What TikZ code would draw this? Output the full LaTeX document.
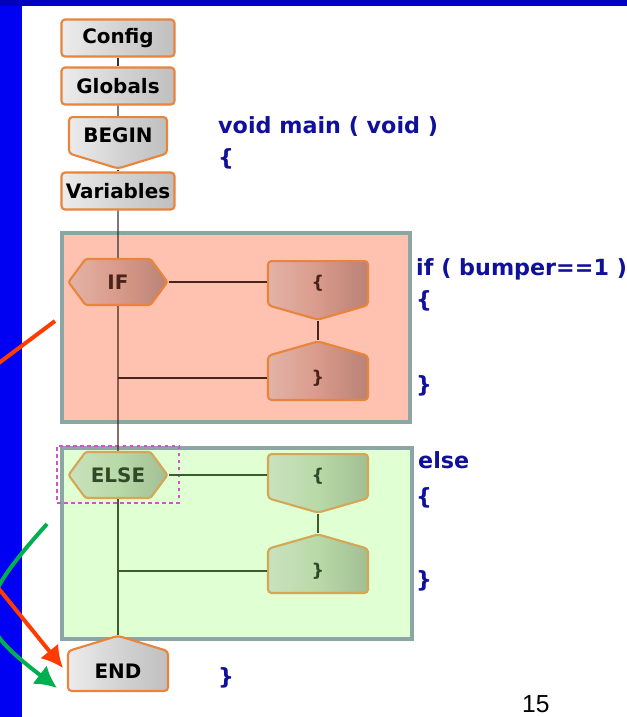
\documentclass[tikz,border=0pt]{standalone}
\usepackage{fontspec}
\newfontfamily\codefont{DejaVu Sans}
\newfontfamily\numfont{Liberation Sans}
\usetikzlibrary{shapes,arrows.meta}
\definecolor{stripblue}{HTML}{0000F2}
\definecolor{bandblue}{HTML}{0000C0}
\definecolor{codeblue}{HTML}{10109A}
\definecolor{boxorange}{HTML}{E8843C}
\definecolor{framegray}{HTML}{8CA5A5}
\definecolor{ifback}{HTML}{FFC2B0}
\definecolor{ifnode}{HTML}{D99A8A}
\definecolor{ifline}{HTML}{4A2418}
\definecolor{elseback}{HTML}{E0FFD2}
\definecolor{elsenode}{HTML}{B8D9A8}
\definecolor{elseborder}{HTML}{D4A656}
\definecolor{elseline}{HTML}{3C5C30}
\definecolor{arrowred}{HTML}{FF3C00}
\definecolor{arrowgreen}{HTML}{00B050}
\definecolor{selmagenta}{HTML}{CC55CC}

\begin{document}
\begin{tikzpicture}[x=0.03cm,y=-0.03cm]
		\tikzstyle{bloc}=[draw=boxorange,line width=1.8pt,rounded corners=3pt,inner sep=0pt,text=black,font=\codefont\bfseries\fontsize{17}{20}\selectfont,left color=gray!15,right color=gray!50,middle color=gray!34]
		\tikzstyle{boite}=[bloc,rectangle,minimum width=3.39cm,minimum height=1.11cm]
		\tikzstyle{debut}=[bloc,signal,signal to=south,signal from=nowhere,signal pointer angle=146,minimum width=2.94cm,minimum height=1.41cm]
		\tikzstyle{fin}=[bloc,signal,signal to=north,signal from=nowhere,signal pointer angle=146,minimum width=3cm,minimum height=1.41cm]
		\tikzstyle{cadre}=[draw=framegray,line width=3.2pt,rectangle]
		\tikzstyle{test}=[signal,signal to=east and west,signal pointer angle=107,minimum width=2.97cm,minimum height=1.38cm,inner sep=0pt,line width=1.8pt,rounded corners=2pt,font=\codefont\bfseries\fontsize{17}{20}\selectfont]
		\tikzstyle{ouvre}=[signal,signal to=south,signal from=nowhere,signal pointer angle=148,minimum width=3cm,minimum height=1.38cm,inner sep=0pt,line width=1.8pt,rounded corners=3pt,font=\codefont\bfseries\fontsize{15}{17}\selectfont]
		\tikzstyle{ferme}=[ouvre,signal to=north]
		\tikzstyle{sicoul}=[draw=boxorange,text=ifline,left color=ifnode!75!white,right color=ifnode!85!black,middle color=ifnode]
		\tikzstyle{sinoncoul}=[draw=elseborder,text=elseline!80!black,left color=elsenode!75!white,right color=elsenode!88!black,middle color=elsenode]
		\tikzstyle{code}=[anchor=base west,inner sep=0pt,text=codeblue,font=\codefont\bfseries\fontsize{19}{22}\selectfont]
		\tikzstyle{fil}=[line width=1.2pt,draw=black!80]
		\path[use as bounding box] (0,0) rectangle (627,717);
		\clip (0,0) rectangle (627,717);
		\fill[white] (0,0) rectangle (627,717);
		\fill[stripblue] (0,0) rectangle (22,717);
		\fill[bandblue] (0,0) rectangle (627,6);
		
		\node[cadre,fill=ifback,minimum width=10.44cm,minimum height=5.67cm] (blocsi) at (236,327.5){};
		\node[cadre,fill=elseback,minimum width=10.5cm,minimum height=5.73cm] (blocsinon) at (237,543.5){};
		\node[draw=selmagenta,dashed,line width=1.1pt,minimum width=3.66cm,minimum height=1.71cm] (sel) at (118,474.5){};
		
		\node[boite] (config) at (118,38){Config};
		\node[boite] (globals) at (118,86){Globals};
		\node[debut,anchor=north] (begin) at (118,116){BEGIN};
		\node[boite] (vars) at (118,191){Variables};
		
		\node[test,sicoul] (si) at (118,282){IF};
		\node[ouvre,sicoul,anchor=north] (siouvre) at (318,260){\{};
		\node[ferme,sicoul,anchor=south] (siferme) at (318,401){\}};
		
		\node[test,sinoncoul] (sinon) at (118,475){ELSE};
		\node[ouvre,sinoncoul,anchor=north] (sinonouvre) at (318,453){\{};
		\node[ferme,sinoncoul,anchor=south] (sinonferme) at (318,594){\}};
		
		\node[fin,anchor=south] (end) at (118,692){END};
		
		\node[code] (tmain) at (218,133){void main ( void )};
		\node[code] (tacc1) at (218,165){\{};
		\node[code] (tsi) at (416,275){if ( bumper==1 )};
		\node[code] (tacc2) at (416,307){\{};
		\node[code] (tacc3) at (416,392){\}};
		\node[code] (tsinon) at (418,468){else};
		\node[code] (tacc4) at (416,504){\{};
		\node[code] (tacc5) at (416,587){\}};
		\node[code] (tacc6) at (218,684){\}};
		\node[anchor=base west,inner sep=0pt,font=\numfont\fontsize{21}{24}\selectfont] (page) at (522,712){15};
		
		\coordinate (rougedep) at (55,321);
		\coordinate (rougefin) at (63,668);
		\coordinate (vertdep) at (47,524);
		\coordinate (vertfin) at (57,688);
		
		\draw[fil] (config)--(globals);
		\draw[fil] (globals)--(begin);
		\draw[fil] (begin.south)--(vars);
		\draw[fil] (vars)--(si);
		\draw[fil,draw=ifline] (si)--(sinon);
		\draw[fil,draw=ifline] (si.east)--(si.east -| siouvre.west);
		\draw[fil,draw=ifline] (siouvre.south)--(siferme.north);
		\draw[fil,draw=ifline] (si.south |- siferme.west)--(siferme.west);
		\draw[fil,draw=elseline] (sinon.east)--(sinon.east -| sinonouvre.west);
		\draw[fil,draw=elseline] (sinonouvre.south)--(sinonferme.north);
		\draw[fil,draw=elseline] (sinon.south |- sinonferme.west)--(sinonferme.west);
		\draw[fil,draw=elseline] (sinon.south)--(end.north);
		
		\draw[arrowred,line width=3.4pt,-{Latex[length=0.65cm,width=0.7cm]}] (rougedep)--(-60,407)--(-60,516)--(rougefin);
		\draw[arrowgreen,line width=3.4pt,-{Latex[length=0.65cm,width=0.7cm]}] (vertdep) .. controls (-30,610) and (-25,625) .. (vertfin);
	\end{tikzpicture}
\end{document}
